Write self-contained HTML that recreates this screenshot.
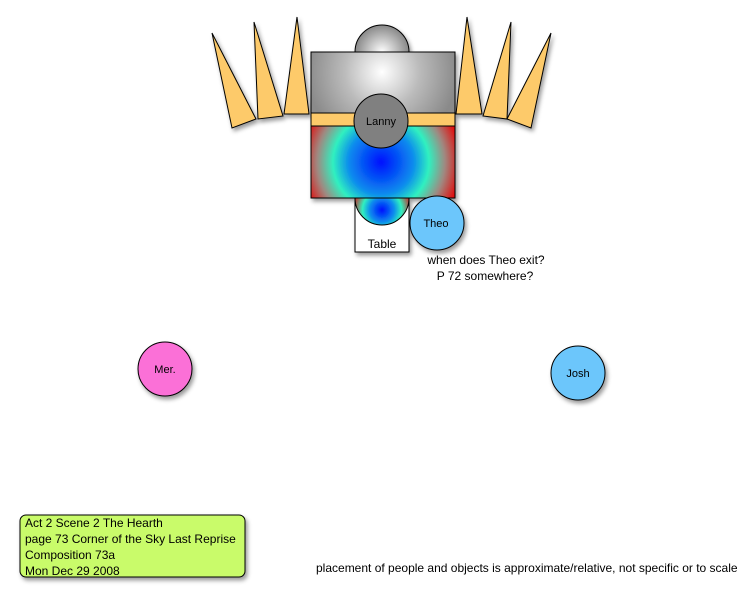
<!DOCTYPE html>
<html><head><meta charset="utf-8"><style>
body{margin:0;background:#fff;width:753px;height:600px;overflow:hidden;font-family:"Liberation Sans",sans-serif}
</style></head><body>
<svg width="753" height="600" viewBox="0 0 753 600" xmlns="http://www.w3.org/2000/svg" font-family="Liberation Sans, sans-serif">
<defs>
<filter id="sh" x="-20%" y="-20%" width="150%" height="150%"><feDropShadow dx="2" dy="3" stdDeviation="2" flood-opacity="0.4"/></filter>
<radialGradient id="gr" cx="0.5" cy="0.5" r="0.5"><stop offset="0" stop-color="#fff"/><stop offset="1" stop-color="#888"/></radialGradient>
<radialGradient id="gr2" cx="382" cy="72" r="75" gradientUnits="userSpaceOnUse"><stop offset="0" stop-color="#fff"/><stop offset="0.5" stop-color="#bbb"/><stop offset="1" stop-color="#8a8a8a"/></radialGradient>
<radialGradient id="rb" cx="381" cy="162" r="80" gradientUnits="userSpaceOnUse"><stop offset="0" stop-color="#0010ff"/><stop offset="0.4" stop-color="#0a8aee"/><stop offset="0.6" stop-color="#30f0c0"/><stop offset="0.8" stop-color="#a08880"/><stop offset="1" stop-color="#e01010"/></radialGradient>
<radialGradient id="rb2" cx="382" cy="210" r="30" gradientUnits="userSpaceOnUse"><stop offset="0" stop-color="#0010ff"/><stop offset="0.4" stop-color="#0a8aee"/><stop offset="0.65" stop-color="#30f0c0"/><stop offset="1" stop-color="#d02020"/></radialGradient>
</defs>
<g stroke="#000" stroke-width="1" fill="#fdca6a" filter="url(#sh)">
<polygon points="212,33 232,128 256,119"/>
<polygon points="254,22 258,119 283,116"/>
<polygon points="297,17 284,114 309,114"/>
<polygon points="467,17 456,114 482,114"/>
<polygon points="511,22 483,116 507,119"/>
<polygon points="551,33 507,119 531,128"/>
<circle cx="382" cy="52" r="27" fill="url(#gr)"/>
<rect x="311" y="52" width="144" height="61" fill="url(#gr2)"/>
<rect x="311" y="113" width="144" height="13"/>
<rect x="311" y="126" width="144" height="72" fill="url(#rb)"/>
<rect x="355" y="198" width="54" height="54" fill="#fff"/>
<path d="M355,198 A27,27 0 0 0 409,198 Z" fill="url(#rb2)"/>
<circle cx="381" cy="121" r="27" fill="#808080"/>
<circle cx="437" cy="223" r="27" fill="#6cc6fb"/>
<circle cx="165" cy="369" r="27" fill="#fb6fd7"/>
<circle cx="578" cy="373" r="27" fill="#6cc6fb"/>
<rect x="20" y="515" width="225" height="62" rx="6" fill="#c9fb6a"/>
</g>
<g font-size="11" text-anchor="middle" fill="#000">
<text x="381" y="125">Lanny</text>
<text x="436" y="227">Theo</text>
<text x="165" y="373">Mer.</text>
<text x="578" y="377">Josh</text>
<text x="382" y="248" font-size="12">Table</text>
<text x="486" y="264" font-size="12">when does Theo exit?</text>
<text x="485" y="280" font-size="12">P 72 somewhere?</text>
</g>
<g font-size="12" fill="#000">
<text x="25" y="527">Act 2 Scene 2 The Hearth</text>
<text x="25" y="543">page 73 Corner of the Sky Last Reprise</text>
<text x="25" y="559">Composition 73a</text>
<text x="25" y="575">Mon Dec 29 2008</text>
<text x="316" y="572" font-size="12">placement of people and objects is approximate/relative, not specific or to scale</text>
</g>
</svg>
</body></html>
